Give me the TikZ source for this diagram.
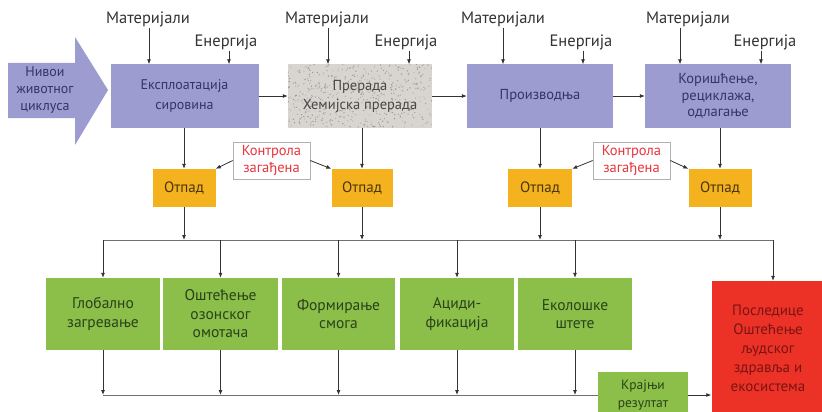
\documentclass[tikz,border=0pt]{standalone}
\usepackage{fontspec}
\setmainfont{PT Sans}
\usetikzlibrary{arrows.meta}
\definecolor{lav}{HTML}{9C9CD0}
\definecolor{lavtxt}{HTML}{34346A}
\definecolor{grn}{HTML}{8CBE4A}
\definecolor{grntxt}{HTML}{2A421A}
\definecolor{org}{HTML}{F4B21E}
\definecolor{orgtxt}{HTML}{4A3510}
\definecolor{rd}{HTML}{EC3226}
\definecolor{rdtxt}{HTML}{7A1414}
\definecolor{gry}{HTML}{D8D4D0}
\definecolor{ln}{HTML}{333333}
\definecolor{ktxt}{HTML}{E8343C}
\tikzset{
  arr/.style={draw=ln, line width=0.8pt, -{Latex[length=5pt,width=4pt]}},
  bus/.style={draw=ln!70, line width=0.8pt},
  topbox/.style={fill=lav, text=lavtxt, minimum height=63pt, align=center, inner sep=0pt,
     font=\fontsize{14.5}{19}\selectfont},
  hdr/.style={text=ln, inner sep=1pt, font=\fontsize{16.5}{18}\selectfont},
  wastebox/.style={fill=org, text=orgtxt, minimum width=63pt, minimum height=38pt, inner sep=0pt,
     font=\fontsize{15}{16}\selectfont},
  ctrlbox/.style={draw=gray!60, fill=white, text=ktxt, line width=0.6pt, minimum width=77pt, minimum height=37pt,
     align=center, inner sep=0pt, font=\fontsize{14.5}{17}\selectfont},
  effbox/.style={fill=grn, text=grntxt, minimum height=72pt, align=center, inner sep=0pt,
     font=\fontsize{15.5}{18.5}\selectfont},
}
\begin{document}
\begin{tikzpicture}[x=1pt,y=-1pt]
\clip (0,0) rectangle (822,412);
\useasboundingbox (0,0) rectangle (822,412);
\fill[white] (0,0) rectangle (822,412);
% big arrow
\fill[lav] (8,63) -- (75,63) -- (75,37) -- (108,90) -- (75,145) -- (75,118) -- (8,118) -- cycle;
\node[align=center, text=lavtxt, font=\fontsize{14}{17}\selectfont] (lvl) at (45,90) {Нивои\\животног\\циклуса};
% top boxes
\node[topbox, minimum width=148pt, font=\fontsize{14}{20}\selectfont] (b1) at (184.5,96) {Експлоатација\\сировина};
\node[topbox, minimum width=144pt, fill=gry, text=ln!90] (b2) at (360,96) {};
\pgfmathsetseed{7}
\begin{scope}
\clip (b2.north west) rectangle (b2.south east);
\foreach \k in {1,...,500}{
  \pgfmathsetmacro{\px}{288+144*rnd}
  \pgfmathsetmacro{\py}{64+63*rnd}
  \pgfmathsetmacro{\pc}{50+40*rnd}
  \fill[gray!\pc!white] (\px,\py) circle (0.7);
}
\end{scope}
\node[align=center, text=ln!90, font=\fontsize{14.5}{19}\selectfont] (b2t) at (b2) {Прерада\\Хемијска прерада};
\node[topbox, minimum width=146pt] (b3) at (540,96) {Производња};
\node[topbox, minimum width=146pt, font=\fontsize{14.5}{16.5}\selectfont] (b4) at (718,96) {Коришћење,\\рециклажа,\\одлагање};
\draw[arr] (b1.east) -- (b2.west);
\draw[arr] (b2.east) -- (b3.west);
\draw[arr] (b3.east) -- (b4.west);
% materials / energy
\node[hdr] (m1) at (148,19) {Материјали};
\node[hdr] (e1) at (226,42) {Енергија};
\node[hdr] (m2) at (327,19) {Материјали};
\node[hdr] (e2) at (406,42) {Енергија};
\node[hdr] (m3) at (503,19) {Материјали};
\node[hdr] (e3) at (581,42) {Енергија};
\node[hdr] (m4) at (688,19) {Материјали};
\node[hdr] (e4) at (765,42) {Енергија};
\foreach \i/\mx/\ex in {1/149/229, 2/328/409, 3/503/583, 4/680/761}{
  \draw[arr] (\mx,0 |- m\i.south) -- (\mx,0 |- b\i.north);
  \draw[arr] (\ex,0 |- e\i.south) -- (\ex,0 |- b\i.north);
}
% waste
\node[wastebox] (o1) at (184,188) {Отпад};
\node[wastebox, minimum width=61pt] (o2) at (362,188) {Отпад};
\node[wastebox, minimum width=64pt] (o3) at (540,188) {Отпад};
\node[wastebox] (o4) at (720,188) {Отпад};
\draw[arr] (b1.south -| o1) -- (o1.north);
\draw[arr] (b2.south -| o2) -- (o2.north);
\draw[arr] (b3.south -| o3) -- (o3.north);
\draw[arr] (b4.south -| o4) -- (o4.north);
% control
\node[ctrlbox] (k1) at (271.5,160.5) {Контрола\\загађена};
\node[ctrlbox] (k2) at (631.5,160.5) {Контрола\\загађена};
\draw[arr] (k1.west) -- (o1.north east);
\draw[arr] (k1.east) -- (o2.north west);
\draw[arr] (k2.west) -- (o3.north east);
\draw[arr] (k2.east) -- (o4.north west);
% bus
\coordinate (busL) at (103,240);
\coordinate (busR) at (773,240);
\draw[bus] (busL) -- (busR);
\foreach \i in {1,2,3,4}{ \draw[arr] (o\i.south) -- (o\i |- busL); }
% effects
\node[effbox, minimum width=114pt] (g1) at (103,314) {Глобално\\загревање};
\node[effbox, minimum width=115pt] (g2) at (220.5,314) {Оштећење\\озонског\\омотача};
\node[effbox, minimum width=113pt] (g3) at (338.5,314) {Формирање\\смога};
\node[effbox, minimum width=114pt] (g4) at (457,314) {Ациди-\\фикација};
\node[effbox, minimum width=114pt] (g5) at (575,314) {Еколошке\\штете};
\node[fill=rd, text=rdtxt, minimum width=113pt, minimum height=134pt, align=center, inner sep=0pt,
  font=\fontsize{15}{19}\selectfont] (r) at (768,348) {Последице\\Оштећење\\људског\\здравља и\\екосистема};
\foreach \i in {1,...,5}{ \draw[arr] (g\i |- busL) -- (g\i.north); }
\draw[arr] (busR) -- (busR |- r.north);
% bottom
\node[effbox, minimum width=90pt, minimum height=46pt, font=\fontsize{13.5}{18}\selectfont] (kr) at (643,395) {Крајњи\\резултат};
\coordinate (botL) at (103,395);
\draw[bus] (botL) -- (kr.west);
\foreach \i in {1,...,5}{ \draw[arr] (g\i.south) -- (g\i |- botL); }
\draw[arr] (kr.east) -- (r.west |- kr.east);
\end{tikzpicture}
\end{document}
